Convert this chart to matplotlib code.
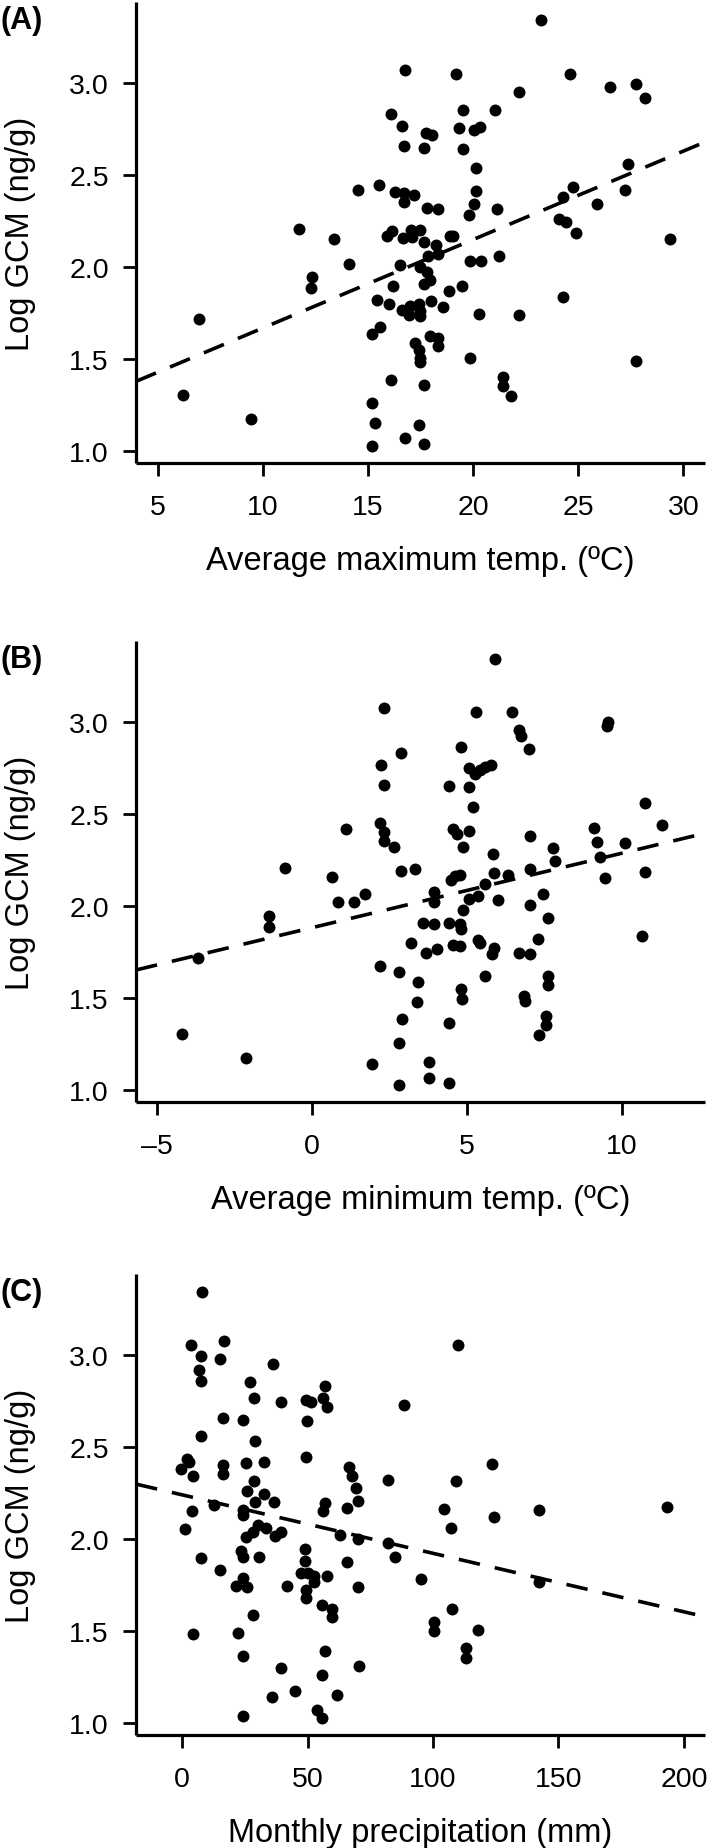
"""Log GCM against climate variables, three stacked scatter panels."""
import numpy as np
import matplotlib
matplotlib.use("Agg")
import matplotlib.pyplot as plt

# (A) average maximum temperature
max_temp = [23.25, 16.75, 19.2, 24.6, 22.2, 26.5, 27.75, 28.2, 16.1, 19.5,
            21.05, 16.6, 17.75, 18.06, 19.33, 20.06, 20.33, 16.73, 17.67, 19.54,
            20.14, 27.38, 14.51, 15.54, 16.29, 16.72, 17.19, 16.72, 20.14, 20.06,
            17.8, 18.32, 21.16, 19.82, 24.3, 24.1, 24.44, 24.89, 27.23, 25.91,
            24.76, 29.35, 11.71, 13.4, 16.13, 15.89, 16.66, 17.05, 17.08, 17.48,
            17.69, 18.23, 18.91, 19.06, 17.87, 18.35, 14.12, 16.53, 19.86, 20.37,
            21.25, 17.48, 17.8, 17.95, 12.32, 12.29, 16.21, 17.67, 18.87, 19.46,
            24.3, 15.42, 16.02, 16.61, 17.0, 16.97, 17.43, 17.48, 17.48, 17.99,
            18.56, 20.3, 22.19, 6.95, 15.58, 15.18, 17.95, 18.32, 18.32, 17.24,
            17.45, 17.48, 17.48, 19.86, 27.75, 16.1, 17.67, 21.41, 21.41, 21.81,
            6.21, 9.46, 15.18, 15.34, 17.43, 16.77, 15.18, 17.67]
gcm_a = [3.34, 3.07, 3.05, 3.05, 2.95, 2.98, 2.995, 2.92, 2.83, 2.855,
         2.85, 2.765, 2.73, 2.715, 2.755, 2.745, 2.76, 2.655, 2.648, 2.642,
         2.537, 2.558, 2.419, 2.446, 2.407, 2.403, 2.392, 2.35, 2.412, 2.341,
         2.32, 2.316, 2.316, 2.279, 2.377, 2.261, 2.241, 2.185, 2.42, 2.342,
         2.435, 2.15, 2.203, 2.149, 2.194, 2.165, 2.158, 2.201, 2.162, 2.201,
         2.134, 2.116, 2.165, 2.17, 2.061, 2.071, 2.016, 2.011, 2.029, 2.034,
         2.056, 2.0, 1.974, 1.929, 1.946, 1.882, 1.898, 1.904, 1.871, 1.898,
         1.835, 1.817, 1.795, 1.766, 1.786, 1.74, 1.8, 1.762, 1.735, 1.813,
         1.781, 1.742, 1.737, 1.717, 1.672, 1.637, 1.621, 1.612, 1.57, 1.585,
         1.545, 1.505, 1.48, 1.503, 1.485, 1.387, 1.358, 1.401, 1.354, 1.3,
         1.305, 1.17, 1.258, 1.149, 1.14, 1.067, 1.026, 1.035]

# (B) average minimum temperature
min_temp = [5.92, 2.33, 5.28, 6.44, 6.68, 6.75, 6.99, 4.8, 2.87, 2.21,
            5.05, 5.27, 5.43, 5.59, 5.77, 2.33, 4.42, 5.08, 5.19, 1.09,
            2.19, 2.33, 2.33, 2.65, 4.56, 4.69, 5.07, 4.87, 7.02, 5.84,
            7.78, 7.83, 9.1, 9.2, 9.3, 9.45, 10.1, 10.75, 10.75, 11.3,
            9.55, 9.52, 0.65, 2.87, 3.33, 4.5, 4.6, 4.78, 5.88, 6.31,
            7.04, 5.57, 3.92, 3.92, 0.84, 1.36, 1.71, 5.07, 5.37, 5.99,
            7.46, 7.04, 4.87, 7.62, 3.57, 3.94, 4.42, 4.78, 4.8, 3.19,
            3.67, 4.03, 4.54, 4.76, 5.37, 5.43, 5.88, 5.81, 6.67, 7.04,
            7.28, 2.19, 2.81, 3.43, 3.4, 4.81, 4.83, 5.59, 7.62, 7.62,
            6.83, 6.86, 2.89, 4.42, 7.55, 7.55, 7.31, 2.81, 1.92, 3.79,
            3.79, 4.42, 2.81, -4.19, -2.12, -3.68, -1.4, -1.4, 10.66, -0.87]
gcm_b = [3.343, 3.078, 3.056, 3.056, 2.954, 2.924, 2.855, 2.862, 2.833, 2.767,
         2.749, 2.718, 2.736, 2.755, 2.767, 2.658, 2.649, 2.646, 2.537, 2.42,
         2.45, 2.404, 2.355, 2.319, 2.419, 2.391, 2.409, 2.322, 2.379, 2.281,
         2.317, 2.244, 2.422, 2.345, 2.264, 2.151, 2.34, 2.56, 2.182, 2.44,
         3.0, 2.98, 2.155, 2.191, 2.2, 2.14, 2.16, 2.17, 2.179, 2.168,
         2.2, 2.119, 2.074, 2.019, 2.019, 2.019, 2.064, 2.037, 2.055, 2.033,
         2.064, 2.004, 1.977, 1.932, 1.905, 1.901, 1.906, 1.901, 1.874, 1.797,
         1.741, 1.765, 1.786, 1.783, 1.814, 1.797, 1.768, 1.737, 1.743, 1.737,
         1.819, 1.674, 1.638, 1.583, 1.477, 1.55, 1.495, 1.619, 1.616, 1.57,
         1.507, 1.483, 1.387, 1.36, 1.401, 1.35, 1.298, 1.256, 1.142, 1.151,
         1.065, 1.034, 1.025, 1.305, 1.17, 1.717, 1.945, 1.885, 1.836, 2.204]

# (C) monthly precipitation
precip = [7.99, 3.71, 16.49, 7.59, 15.03, 6.91, 7.59, 36.18, 27.15, 28.59,
          39.25, 57.1, 49.23, 51.5, 56.14, 57.9, 88.48, 16.22, 24.2, 49.9,
          7.59, 29.15, 49.51, 2.0, 2.91, -0.4, 4.51, 16.22, 16.22, 25.27,
          32.58, 66.4, 67.88, 69.48, 70.12, 81.85, 28.59, 25.79, 32.58, 28.87,
          36.45, 57.1, 65.72, 110.0, 123.6, 109.1, 104.4, 124.1, 142.3, 193.1,
          107.3, 95.3, 142.3, 107.6, 100.4, 100.4, 118.1, 113.1, 113.1, 3.99,
          12.63, 1.32, 24.2, 24.2, 56.14, 30.19, 28.19, 25.55, 33.26, 39.25,
          36.85, 62.81, 70.12, 82.0, 84.8, 7.59, 23.56, 24.2, 30.59, 14.89,
          48.83, 48.83, 47.51, 50.15, 52.43, 52.43, 57.9, 65.88, 24.2, 21.56,
          25.95, 41.92, 49.51, 49.51, 70.12, 55.74, 59.73, 59.73, 28.19, 4.23,
          22.2, 24.2, 57.1, 39.25, 70.52, 55.74, 44.84, 35.78, 61.89, 53.9,
          55.74, 24.2]
gcm_c = [3.34, 3.054, 3.074, 2.992, 2.976, 2.92, 2.86, 2.949, 2.853, 2.764,
         2.745, 2.832, 2.753, 2.742, 2.768, 2.715, 2.726, 2.658, 2.648, 2.641,
         2.558, 2.534, 2.446, 2.436, 2.418, 2.38, 2.344, 2.404, 2.353, 2.413,
         2.418, 2.391, 2.34, 2.277, 2.204, 2.321, 2.317, 2.262, 2.245, 2.201,
         2.201, 2.192, 2.168, 3.053, 2.408, 2.317, 2.163, 2.118, 2.158, 2.172,
         2.06, 1.783, 1.765, 1.62, 1.547, 1.498, 1.504, 1.404, 1.353, 2.15,
         2.186, 2.054, 2.159, 2.132, 2.15, 2.075, 2.039, 2.012, 2.06, 2.038,
         2.014, 2.018, 2.001, 1.978, 1.9, 1.897, 1.936, 1.902, 1.9, 1.833,
         1.942, 1.878, 1.815, 1.815, 1.797, 1.764, 1.797, 1.873, 1.788, 1.742,
         1.739, 1.742, 1.721, 1.676, 1.737, 1.639, 1.616, 1.576, 1.583, 1.48,
         1.485, 1.362, 1.389, 1.299, 1.308, 1.259, 1.172, 1.141, 1.15, 1.068,
         1.027, 1.036]

# fitted lines: (intercept, slope)
fit_a = (1.186, 0.0481)
fit_b = (1.881, 0.0405)
fit_c = (2.239, -0.00318)

panel_letters = ["(A)", "(B)", "(C)"]
x_labels = ["Average maximum temp. (\u00baC)", "Average minimum temp. (\u00baC)",
            "Monthly precipitation (mm)"]
y_label = "Log GCM (ng/g)"
y_ticks = [1.0, 1.5, 2.0, 2.5, 3.0]
x_ticks_a = [5, 10, 15, 20, 25, 30]
x_ticks_b = [-5, 0, 5, 10]
x_ticks_c = [0, 50, 100, 150, 200]

W, H = 709, 1849
plt.rcParams["font.family"] = ["Liberation Sans", "DejaVu Sans"]


def panel(fig, bottom_px, xs, ys, fit, xlim, xticks, letter, xlabel):
    left, right, height = 136, 705, 461
    ax = fig.add_axes([left / W, bottom_px / H, (right - left) / W, height / H])
    ax.plot(xs, ys, "o", ms=8.6, mew=0, color="black", zorder=3)
    ax.axline((0, fit[0]), slope=fit[1], color="black", lw=2.6,
              linestyle=(0, (6, 4.2)), zorder=2)
    ax.set_xlim(*xlim)
    ax.set_ylim(0.933, 3.44)
    ax.set_yticks(y_ticks)
    ax.set_yticklabels([f"{t:.1f}" for t in y_ticks])
    ax.set_xticks(xticks)
    ax.set_xticklabels([str(t).replace("-", "\u2013") for t in xticks])
    for side in ("top", "right"):
        ax.spines[side].set_visible(False)
    for side in ("left", "bottom"):
        ax.spines[side].set_linewidth(2.3)
        ax.spines[side].set_capstyle("butt")
    ax.tick_params(axis="both", direction="out", length=9.5, width=2.0,
                   labelsize=20.5, color="black")
    ax.tick_params(axis="x", pad=12.5)
    ax.tick_params(axis="y", pad=10)
    top_px = bottom_px + height
    fig.text(0.0, (top_px - 18) / H, letter, fontsize=22, fontweight="bold",
             ha="left", va="center")
    fig.text(21 / W, (bottom_px + height / 2) / H, y_label, rotation=90,
             fontsize=23.5, ha="center", va="center")
    fig.text((left + right) / 2 / W, (bottom_px - 106) / H, xlabel,
             fontsize=23.5, ha="center", va="baseline")
    return ax


def main() -> None:
    fig = plt.figure(figsize=(W / 100, H / 100), dpi=100)
    panel(fig, H - 464, max_temp, gcm_a, fit_a, (3.97, 31.03), x_ticks_a,
          panel_letters[0], x_labels[0])
    panel(fig, H - 1103, min_temp, gcm_b, fit_b, (-5.68, 12.68), x_ticks_b,
          panel_letters[1], x_labels[1])
    panel(fig, H - 1736, precip, gcm_c, fit_c, (-18.4, 208.4), x_ticks_c,
          panel_letters[2], x_labels[2])
    fig.savefig("out.png", dpi=100, facecolor="white")


if __name__ == "__main__":
    main()
